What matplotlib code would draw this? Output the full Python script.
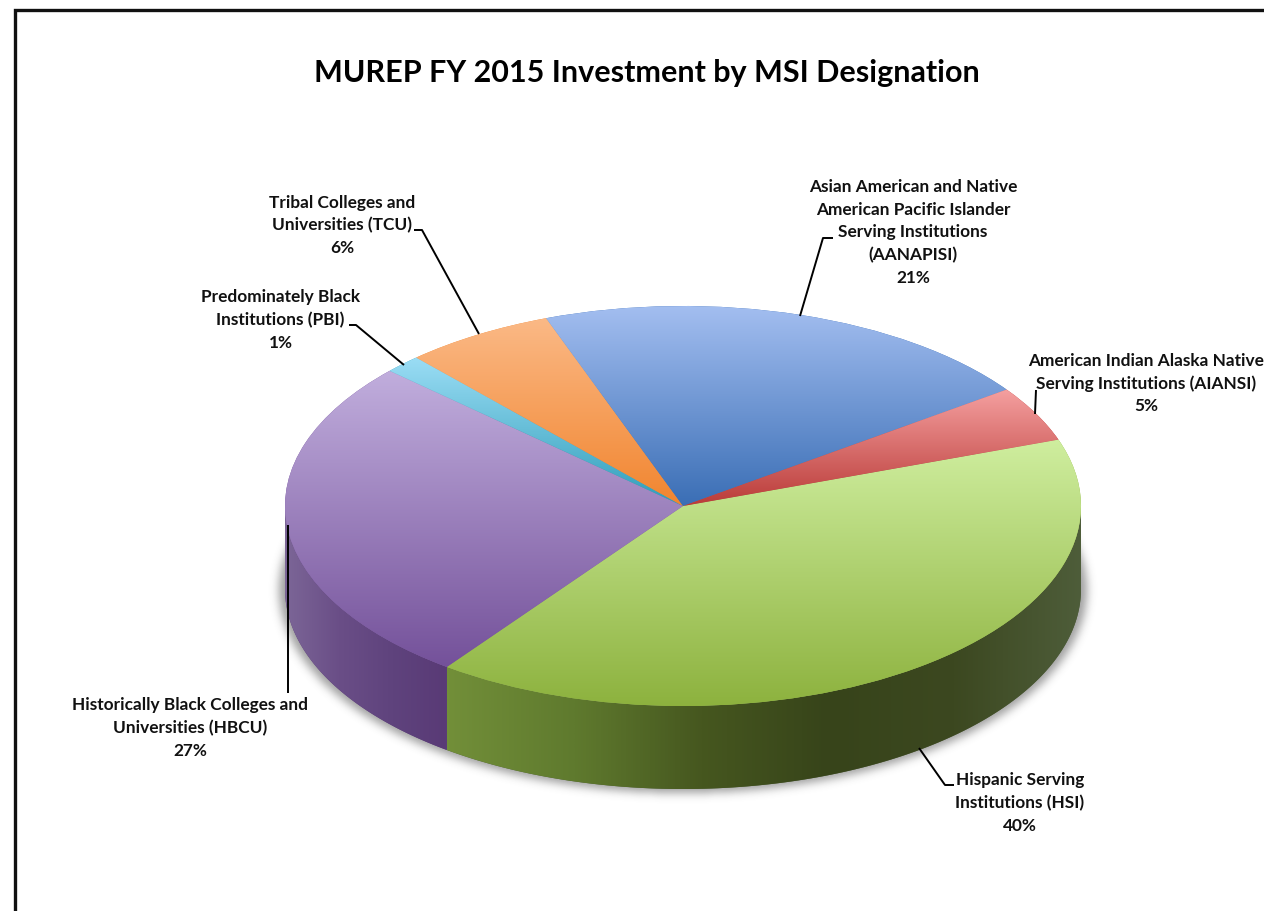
import numpy as np
import matplotlib
matplotlib.use("Agg")
import matplotlib.pyplot as plt
from matplotlib.colors import LinearSegmentedColormap
from matplotlib.patches import Polygon

title = "MUREP FY 2015 Investment by MSI Designation"
categories = ["HSI", "HBCU", "PBI", "TCU", "AANAPISI", "AIANSI"]
values = [40.5, 26.7, 1.5, 6.1, 20.7, 4.5]
names = ["Hispanic Serving\nInstitutions (HSI)",
         "Historically Black Colleges and\nUniversities (HBCU)",
         "Predominately Black\nInstitutions (PBI)",
         "Tribal Colleges and\nUniversities (TCU)",
         "Asian American and Native\nAmerican Pacific Islander\nServing Institutions\n(AANAPISI)",
         "American Indian Alaska Native\nServing Institutions (AIANSI)"]
pct_labels = ["40%", "27%", "1%", "6%", "21%", "5%"]
top_light = ["#CFEE9F", "#C1AEDD", "#9BDDF5", "#FBB986", "#A3BEF0", "#F5A0A0"]
top_dark = ["#8DB23E", "#74519A", "#2F9DB9", "#F1852F", "#3A6EB5", "#BA3B38"]
side_stops = {
    "HSI": ["#728F39", "#5F7A2E", "#46571F", "#37441A", "#3C4820", "#4E5D3A"],
    "HBCU": ["#7C6697", "#6A4E87", "#5F437D", "#593A76"],
}

# geometry in pixels of the reference
W, H = 1264, 911
CX, CY, RX, RY, DEPTH = 683, 506, 398, 200, 83
START = 19.4


def P(px, py):
    return (px - CX) / RX, (CY - py) / RY


fig = plt.figure(figsize=(W / 100, H / 100), dpi=100, facecolor="white")
ax = fig.add_axes([0, 0, 1, 1])
wedges, _ = ax.pie(values, startangle=START, counterclock=False, radius=1,
                   center=(0, 0), colors=top_dark, frame=False,
                   wedgeprops=dict(linewidth=0, zorder=3))
ax.set_aspect("auto")
xlim = (P(0, 0)[0], P(W, 0)[0])
ylim = (P(0, H)[1], P(0, 0)[1])
d = DEPTH / RY

# soft shadow below the body
gx = np.arange(W) + 0.5
gy = np.arange(H) + 0.5
xx, yy = np.meshgrid(gx, gy)
mask = (((xx - CX) / (RX + 6)) ** 2 + ((yy - (CY + DEPTH + 1)) / (RY + 3)) ** 2 <= 1).astype(float)
kx = np.exp(-0.5 * (np.arange(-14, 15) / 4.5) ** 2)
kx /= kx.sum()
mask = np.apply_along_axis(lambda r: np.convolve(r, kx, mode="same"), 0, mask)
mask = np.apply_along_axis(lambda r: np.convolve(r, kx, mode="same"), 1, mask)
rgba = np.zeros((H, W, 4))
rgba[..., :3] = 0.28
rgba[..., 3] = mask * 0.52
ax.imshow(rgba, extent=(*xlim, ylim[0], ylim[1]), origin="upper", aspect="auto", zorder=1)

# side walls: the front part (lower half) of every wedge
for w, cat in zip(wedges, categories):
    a, b = w.theta1 % 360, w.theta2 % 360
    if b <= a:
        b += 360
    ranges = [(max(a, lo), min(b, hi)) for lo, hi in [(180, 360), (540, 720)]]
    for t0, t1 in ranges:
        if t1 <= t0:
            continue
        t = np.radians(np.linspace(t0, t1, 300))
        xs, ys = np.cos(t), np.sin(t)
        poly = Polygon(np.r_[np.c_[xs, ys], np.c_[xs[::-1], ys[::-1] - d]],
                       closed=True, fc=side_stops.get(cat, ["#555555"])[-1], ec="none", zorder=2)
        ax.add_patch(poly)
        if cat in side_stops:
            cmap = LinearSegmentedColormap.from_list(cat, side_stops[cat])
            im = ax.imshow(np.linspace(0, 1, 512)[None, :], cmap=cmap, aspect="auto", zorder=2.1,
                           extent=(xs.min(), xs.max(), ys.min() - d, ys.max()))
            im.set_clip_path(poly)

# top faces with vertical gradient per wedge
for w, lt, dk, cat in zip(wedges, top_light, top_dark, categories):
    bb = w.get_path().get_extents(w.get_patch_transform())
    cmap = LinearSegmentedColormap.from_list(cat + "t", [lt, dk])
    im = ax.imshow(np.linspace(0, 1, 256)[:, None], cmap=cmap, aspect="auto", zorder=3.1,
                   origin="upper", extent=(bb.x0, bb.x1, bb.y0, bb.y1))
    im.set_clip_path(w)

ax.set_xlim(*xlim)
ax.set_ylim(*ylim)
ax.axis("off")

# leader lines (pixel positions)
leaders = [
    [(919, 748), (945, 785), (954, 785)],
    [(287.5, 525), (287.5, 693)],
    [(349, 325), (356, 325), (404, 365)],
    [(414, 230), (422, 230), (479, 334)],
    [(800, 316), (823, 238), (833, 238)],
    [(1036, 390), (1035, 414)],
]
for pts in leaders:
    q = np.array([P(*p) for p in pts])
    ax.plot(q[:, 0], q[:, 1], color="black", lw=1.4, zorder=5, solid_capstyle="butt")

# frame
ax.plot(*zip(P(14.5, H), P(14.5, 10), P(W, 10)), color="#111111", lw=2.4, zorder=6,
        solid_joinstyle="miter")

FONT = "Lato"
fig.text(646.5 / W, 1 - 73 / H, title, ha="center", va="center", family=FONT,
         fontweight="bold", fontsize=22, color="black")

label_pos = [(1020, 803), (190.5, 728), (280.5, 320), (342, 225.5), (913, 232.5), (1146, 383.5)]
for (px, py), nm, pc in zip(label_pos, names, pct_labels):
    fig.text(px / W, 1 - py / H, nm + "\n" + pc, ha="center", va="center", family=FONT,
             fontweight="bold", fontsize=12.4, linespacing=1.5, color="#111111", zorder=7)

fig.savefig("out.png", dpi=100, facecolor="white")
